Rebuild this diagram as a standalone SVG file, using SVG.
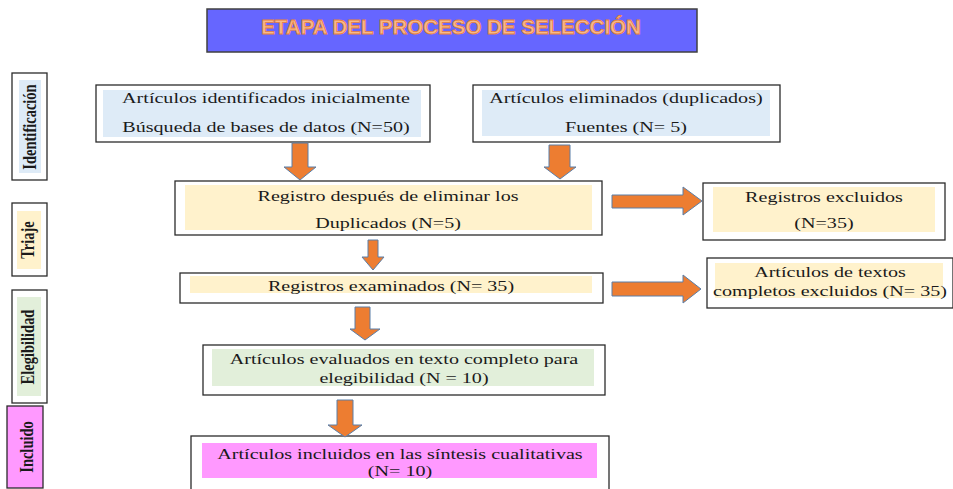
<svg xmlns="http://www.w3.org/2000/svg" width="953" height="489" viewBox="0 0 953 489">
<style>
.box{fill:#fff;stroke:#2b2b2b;stroke-width:1.3}
.blue{fill:#DEEBF7}
.yel{fill:#FFF2CC}
.grn{fill:#E2EFDA}
.pink{fill:#FF99FF}
.t{font-family:"Liberation Serif","Times New Roman",serif;font-size:15px;fill:#1a1a1a;text-anchor:middle}
.side{font-family:"Liberation Serif","Times New Roman",serif;font-size:14.5px;font-weight:bold;fill:#1a1a1a;text-anchor:middle}
.arr{fill:#ED7D31;stroke:#5B7FA8;stroke-width:1}
.title{font-family:"Liberation Sans",Arial,sans-serif;font-size:20.5px;font-weight:bold;fill:#F7B98A;stroke:#E8823A;stroke-width:0.8;text-anchor:middle}
</style>
<g id="title">
<rect x="207" y="9" width="490" height="43" fill="#6666FF" stroke="#404040" stroke-width="1.5"/>
<text class="title" x="451" y="33.5">ETAPA DEL PROCESO DE SELECCIÓN</text>
</g>
<g id="stage-identificacion">
<rect class="box" x="12" y="73" width="35" height="107"/>
<rect class="blue" x="19" y="80" width="22" height="93"/>
<text class="side" transform="translate(36,127) rotate(-90) scale(1,1.3)">Identificación</text>
</g>
<g id="stage-triaje">
<rect class="box" x="12" y="203" width="35" height="73"/>
<rect class="yel" x="17" y="211" width="24" height="58"/>
<text class="side" transform="translate(34,240) rotate(-90) scale(1,1.3)">Triaje</text>
</g>
<g id="stage-elegibilidad">
<rect class="box" x="12" y="290" width="35" height="113"/>
<rect class="grn" x="17" y="297" width="24" height="99"/>
<text class="side" transform="translate(34,347) rotate(-90) scale(1,1.3)">Elegibilidad</text>
</g>
<g id="stage-incluido">
<rect x="7" y="406" width="36" height="82" fill="#FF99FF" stroke="#2b2b2b" stroke-width="1.3"/>
<text class="side" transform="translate(33,447) rotate(-90) scale(1,1.3)">Incluido</text>
</g>
<g id="n1">
<rect class="box" x="96" y="85" width="334" height="57"/>
<rect class="blue" x="103" y="90" width="318" height="47"/>
<text class="t" transform="translate(266,103) scale(1.34,1)">Artículos identificados inicialmente</text>
<text class="t" transform="translate(266,132) scale(1.34,1)">Búsqueda de bases de datos (N=50)</text>
</g>
<g id="n2">
<rect class="box" x="473" y="85" width="307" height="57"/>
<rect class="blue" x="482" y="90" width="288" height="46"/>
<text class="t" transform="translate(626,103) scale(1.34,1)">Artículos eliminados (duplicados)</text>
<text class="t" transform="translate(626,132) scale(1.34,1)">Fuentes (N= 5)</text>
</g>
<g id="n3">
<rect class="box" x="175" y="181" width="427" height="54"/>
<rect class="yel" x="185" y="185" width="407" height="45"/>
<text class="t" transform="translate(388,201) scale(1.34,1)">Registro después de eliminar los</text>
<text class="t" transform="translate(388,228) scale(1.34,1)">Duplicados (N=5)</text>
</g>
<g id="n4">
<rect class="box" x="703" y="183" width="242" height="57"/>
<rect class="yel" x="713" y="187" width="222" height="45"/>
<text class="t" transform="translate(824,202) scale(1.34,1)">Registros excluidos</text>
<text class="t" transform="translate(824,228) scale(1.34,1)">(N=35)</text>
</g>
<g id="n5">
<rect class="box" x="180" y="273" width="423" height="30"/>
<rect class="yel" x="190" y="276" width="402" height="17"/>
<text class="t" transform="translate(391,291) scale(1.34,1)">Registros examinados (N= 35)</text>
</g>
<g id="n6">
<rect class="box" x="707" y="258" width="246" height="50"/>
<rect class="yel" x="715" y="263" width="228" height="35"/>
<text class="t" transform="translate(830,277) scale(1.34,1)">Artículos de textos</text>
<text class="t" transform="translate(830,296) scale(1.34,1)">completos excluidos (N= 35)</text>
</g>
<g id="n7">
<rect class="box" x="203" y="345" width="402" height="50"/>
<rect class="grn" x="212" y="349" width="382" height="37"/>
<text class="t" transform="translate(404,364) scale(1.34,1)">Artículos evaluados en texto completo para</text>
<text class="t" transform="translate(404,383) scale(1.34,1)">elegibilidad (N = 10)</text>
</g>
<g id="n8">
<rect class="box" x="191" y="436" width="418" height="60"/>
<rect class="pink" x="202" y="443" width="395" height="35"/>
<text class="t" transform="translate(400,459) scale(1.34,1)">Artículos incluidos en las síntesis cualitativas</text>
<text class="t" transform="translate(400,476) scale(1.34,1)">(N= 10)</text>
</g>
<g id="connectors">
<path class="arr" d="M292,143 H308 V167 H316 L300,180 L284,167 H292 Z"/>
<path class="arr" d="M549,145 H570 V167 H576 L560,179 L544,167 H549 Z"/>
<path class="arr" d="M368,240 H378 V257 H384 L373,270 L362,257 H368 Z"/>
<path class="arr" d="M355,307 H370 V329 H380 L365,340 L350,329 H355 Z"/>
<path class="arr" d="M337,400 H353 V425 H362 L345,437 L328,425 H337 Z"/>
<path class="arr" d="M612,195 H683 V187 L702,201 L683,215 V208 H612 Z"/>
<path class="arr" d="M612,282 H683 V275 L701,289 L683,303 V296 H612 Z"/>
</g>
</svg>
